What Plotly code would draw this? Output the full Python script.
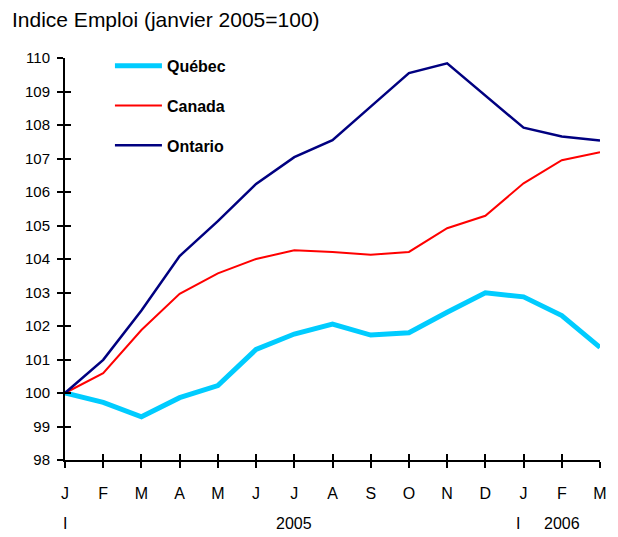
import plotly.graph_objects as go

months = ["J", "F", "M", "A", "M", "J", "J", "A", "S", "O", "N", "D", "J", "F", "M"]
quebec = [100.0, 99.72, 99.29, 99.86, 100.22, 101.30, 101.76, 102.06, 101.73, 101.80, 102.41, 102.99, 102.87, 102.31, 101.36]
canada = [100.0, 100.59, 101.88, 102.96, 103.57, 104.0, 104.26, 104.21, 104.13, 104.21, 104.92, 105.29, 106.26, 106.95, 107.19]
ontario = [100.0, 100.99, 102.46, 104.09, 105.13, 106.24, 107.04, 107.55, 108.55, 109.55, 109.84, 108.87, 107.92, 107.66, 107.54]
y_ticks = list(range(98, 111))
year_labels = [(0, "I"), (6, "2005"), (11.85, "I"), (13, "2006")]

x = list(range(len(months)))
FONT = "Liberation Sans, Arial, sans-serif"
W, H = 610, 529  # page body has an 8px margin inside the 618x537 window

fig = go.Figure()
fig.add_trace(go.Scatter(x=x, y=quebec, mode="lines", name="<b>Québec</b>",
                         line=dict(color="#00CCFF", width=5), legendgroup="q"))
fig.add_trace(go.Scatter(x=x, y=canada, mode="lines", name="<b>Canada</b>",
                         line=dict(color="#FF0000", width=2), legendgroup="c"))
fig.add_trace(go.Scatter(x=x, y=ontario, mode="lines", name="<b>Ontario</b>",
                         line=dict(color="#000080", width=2.5), legendgroup="o"))
# invisible trace on overlay axes for inside tick marks
fig.add_trace(go.Scatter(x=[0], y=[98], xaxis="x2", yaxis="y2", mode="markers",
                         marker=dict(opacity=0), showlegend=False, hoverinfo="skip"))

fig.update_layout(
    width=W, height=H,
    margin=dict(l=57, r=18, t=50, b=77),
    paper_bgcolor="white", plot_bgcolor="white",
    font=dict(family=FONT, size=15, color="black"),
    title=dict(text="Indice Emploi (janvier 2005=100)", xref="container", yref="container",
               x=4 / W, y=1 - 12 / H, xanchor="left", yanchor="middle",
               font=dict(size=21, family=FONT, color="black")),
    showlegend=True,
    legend=dict(x=0.084, y=1.023, xanchor="left", yanchor="top",
                bgcolor="rgba(0,0,0,0)", font=dict(size=16, family=FONT),
                tracegroupgap=16, itemwidth=47),
    xaxis=dict(range=[0, 14], tickmode="array", tickvals=x, ticktext=months,
               showgrid=False, zeroline=False, showline=True, linecolor="black",
               linewidth=2, ticks="outside", ticklen=6, tickwidth=2, tickcolor="black",
               ticklabelstandoff=12, tickfont=dict(size=16)),
    yaxis=dict(range=[98, 110], tickmode="array", tickvals=y_ticks,
               showgrid=False, zeroline=False, showline=True, linecolor="black",
               linewidth=2, ticks="outside", ticklen=6, tickwidth=2, tickcolor="black",
               ticklabelstandoff=4, tickfont=dict(size=15)),
    xaxis2=dict(range=[0, 14], overlaying="x", tickmode="array", tickvals=x,
                showticklabels=False, showgrid=False, zeroline=False, showline=False,
                ticks="inside", ticklen=6, tickwidth=2, tickcolor="black", side="bottom"),
    yaxis2=dict(range=[98, 110], overlaying="y", tickmode="array", tickvals=y_ticks,
                showticklabels=False, showgrid=False, zeroline=False, showline=False,
                ticks="inside", ticklen=6, tickwidth=2, tickcolor="black", side="left"),
)

for xv, txt in year_labels:
    fig.add_annotation(text=txt, x=xv, xref="x", yref="paper", y=0, yshift=-63,
                       xanchor="center", yanchor="middle", showarrow=False,
                       font=dict(size=16, family=FONT))

fig.write_html("out.html")
